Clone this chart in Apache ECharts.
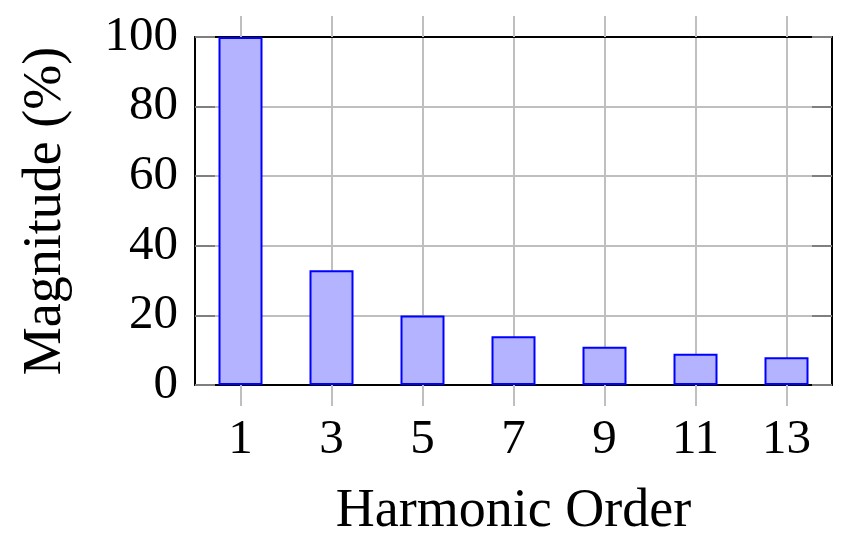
<!DOCTYPE html>
<html>
<head>
<meta charset="utf-8">
<script src="https://cdn.jsdelivr.net/npm/echarts@6/dist/echarts.min.js"></script>
<style>
  html, body { margin: 0; padding: 0; background: #fff; }
  #chart { width: 846px; height: 549px; }
</style>
</head>
<body>
<div id="chart"></div>
<script>
// harmonic orders and their magnitudes (% of fundamental)
const harmonics = [1, 3, 5, 7, 9, 11, 13];
const magnitudes = [100, 33, 20, 14, 11, 9, 8];
const yTicks = [0, 20, 40, 60, 80, 100];

const font = "'Liberation Serif', 'DejaVu Serif', serif";
const gridGray = "#bfbfbf";

const chart = echarts.init(document.getElementById("chart"));

const xCommon = {
  type: "value",
  min: 0,
  max: 14,
  axisLine: { show: true, onZero: false, lineStyle: { color: "#000", width: 2 } },
  axisTick: { show: true, inside: false, length: 21, customValues: harmonics, lineStyle: { color: gridGray, width: 2 } },
  splitLine: { show: false },
};

const yCommon = {
  type: "value",
  min: 0,
  max: 100,
  interval: 20,
  axisLine: { show: true, onZero: false, lineStyle: { color: "#000", width: 2 } },
  axisTick: { show: true, inside: true, length: 20, lineStyle: { color: "#7f7f7f", width: 2 } },
  splitLine: { show: false },
};

chart.setOption({
  animation: false,
  grid: { left: 195, right: 14, top: 37, bottom: 164 },
  xAxis: [
    {
      ...xCommon,
      position: "bottom",
      splitLine: { show: true, lineStyle: { color: gridGray, width: 2 } },
      axisLabel: {
        customValues: harmonics,
        margin: 31,
        fontFamily: font,
        fontSize: 49,
        color: "#000",
      },
      name: "Harmonic Order",
      nameLocation: "middle",
      nameGap: 100,
      nameTextStyle: { fontFamily: font, fontSize: 54, color: "#000" },
    },
    {
      ...xCommon,
      position: "top",
      axisLabel: { show: false },
    },
  ],
  yAxis: [
    {
      ...yCommon,
      position: "left",
      splitLine: { show: true, lineStyle: { color: gridGray, width: 2 } },
      axisLabel: {
        margin: 17,
        fontFamily: font,
        fontSize: 49,
        color: "#000",
        formatter: (v) => (yTicks.includes(v) ? String(v) : ""),
      },
      name: "Magnitude (%)",
      nameLocation: "middle",
      nameRotate: 90,
      nameGap: 122,
      nameTextStyle: { fontFamily: font, fontSize: 54, color: "#000" },
    },
    {
      ...yCommon,
      position: "right",
      axisLabel: { show: false },
    },
  ],
  series: [
    {
      type: "bar",
      xAxisIndex: 0,
      yAxisIndex: 0,
      barWidth: 44,
      data: harmonics.map((h, i) => [h, magnitudes[i]]),
      itemStyle: { color: "#b3b3ff", borderColor: "#0000ff", borderWidth: 2 },
    },
  ],
});
</script>
</body>
</html>
